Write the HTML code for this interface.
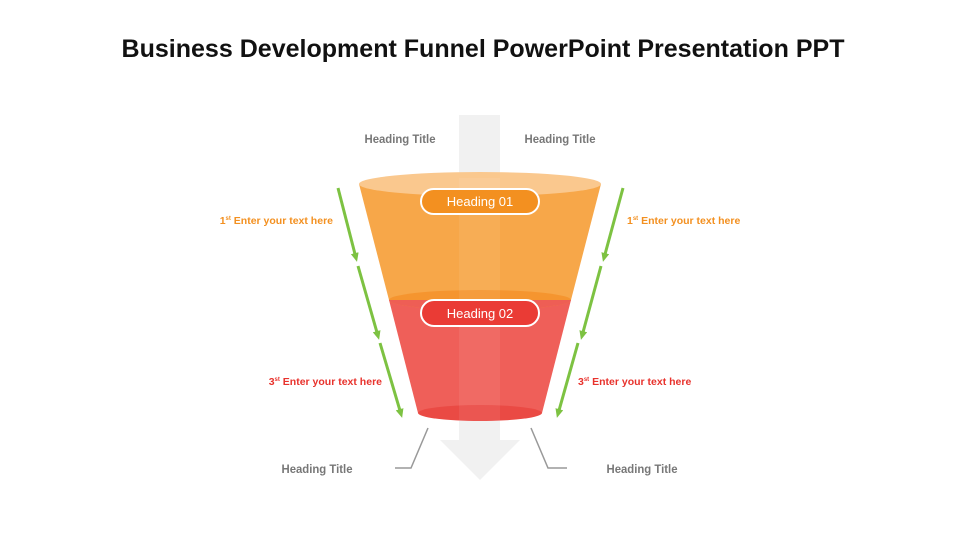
<!DOCTYPE html>
<html><head><meta charset="utf-8"><style>
html,body{margin:0;padding:0;background:#fff;}
svg{display:block;font-family:"Liberation Sans",sans-serif;}
</style></head><body>
<svg width="960" height="540" viewBox="0 0 960 540" xmlns="http://www.w3.org/2000/svg">
<text x="483" y="57" font-size="25" font-weight="bold" text-anchor="middle" fill="#111" textLength="723" lengthAdjust="spacingAndGlyphs">Business Development Funnel PowerPoint Presentation PPT</text>
<path d="M459,115 L500,115 L500,440 L520,440 L480,480 L440,440 L459,440 Z" fill="#f1f1f1"/>
<path d="M359,184 L389,300 L571,300 L601,184 Z" fill="#f7a23f" opacity="0.95"/>
<ellipse cx="480" cy="184" rx="121" ry="12" fill="#fac88e"/>
<path d="M389,300 L418,413 L542,413 L571,300 Z" fill="#ee5650" opacity="0.95"/>
<ellipse cx="480" cy="300" rx="91" ry="10" fill="#f5952f"/>
<path d="M389,300 A91,10 0 0 0 571,300 Z" fill="#ee5e55"/>
<ellipse cx="480" cy="413" rx="62" ry="8" fill="#ea4a44"/>
<rect x="459" y="178" width="41" height="243" fill="#ffffff" opacity="0.07"/>
<rect x="421" y="189" width="118" height="25" rx="12.5" fill="#f39020" stroke="#fff" stroke-width="2"/>
<text x="480" y="206" font-size="13" fill="#fff" text-anchor="middle">Heading  01</text>
<rect x="421" y="300" width="118" height="26" rx="13" fill="#ea3b35" stroke="#fff" stroke-width="2"/>
<text x="480" y="318" font-size="13" fill="#fff" text-anchor="middle">Heading  02</text>
<defs><marker id="ah" markerWidth="10" markerHeight="10" refX="5" refY="4" orient="auto" markerUnits="userSpaceOnUse"><path d="M0,0 L9,4 L0,8 Z" fill="#7dc242"/></marker></defs>
<g stroke="#7dc242" stroke-width="3" marker-end="url(#ah)">
<line x1="338" y1="188" x2="356" y2="258"/>
<line x1="358" y1="266" x2="378" y2="336"/>
<line x1="380" y1="343" x2="401" y2="414"/>
<line x1="623" y1="188" x2="604" y2="258"/>
<line x1="601" y1="266" x2="582" y2="336"/>
<line x1="578" y1="343" x2="558" y2="414"/>
</g>
<polyline points="428,428 411,468 395,468" fill="none" stroke="#999" stroke-width="1.5"/>
<polyline points="531,428 548,468 567,468" fill="none" stroke="#999" stroke-width="1.5"/>
<g font-size="12" font-weight="bold" fill="#777" text-anchor="middle">
<text x="400" y="143" textLength="71" lengthAdjust="spacingAndGlyphs">Heading Title</text>
<text x="560" y="143" textLength="71" lengthAdjust="spacingAndGlyphs">Heading Title</text>
<text x="317" y="473" textLength="71" lengthAdjust="spacingAndGlyphs">Heading Title</text>
<text x="642" y="473" textLength="71" lengthAdjust="spacingAndGlyphs">Heading Title</text>
</g>
<g font-size="10.5" font-weight="bold">
<text x="333" y="224" text-anchor="end" fill="#f39020">1<tspan font-size="6" dy="-4">st</tspan><tspan dy="4">  Enter your text here</tspan></text>
<text x="627" y="224" fill="#f39020">1<tspan font-size="6" dy="-4">st</tspan><tspan dy="4">  Enter your text here</tspan></text>
<text x="382" y="385" text-anchor="end" fill="#e8322c">3<tspan font-size="6" dy="-4">st</tspan><tspan dy="4">  Enter your text here</tspan></text>
<text x="578" y="385" fill="#e8322c">3<tspan font-size="6" dy="-4">st</tspan><tspan dy="4">  Enter your text here</tspan></text>
</g>
</svg>
</body></html>
